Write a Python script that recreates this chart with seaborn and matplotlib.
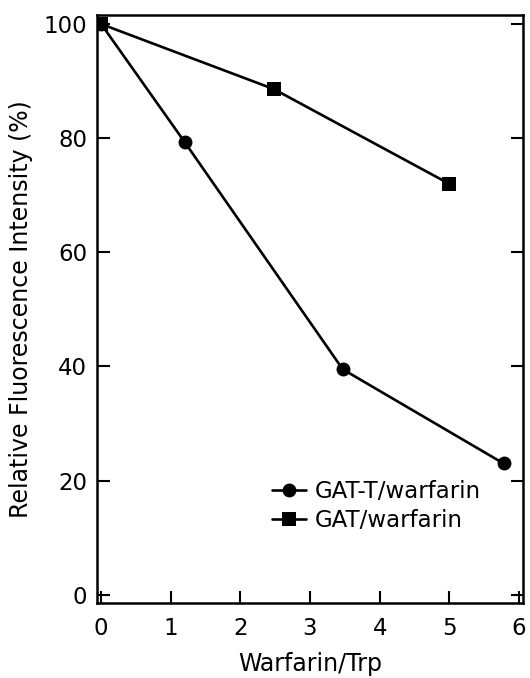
import matplotlib
matplotlib.use("Agg")
import matplotlib.pyplot as plt
import seaborn as sns
import pandas as pd

# Data
gatt_x = [0, 1.2, 3.47, 5.78]
gatt_y = [100, 79.3, 39.5, 23.0]
gat_x = [0, 2.48, 5.0]
gat_y = [100, 88.6, 72.0]
series_names = ["GAT-T/warfarin", "GAT/warfarin"]
xticks = [0, 1, 2, 3, 4, 5, 6]
yticks = [0, 20, 40, 60, 80, 100]

df = pd.concat([
    pd.DataFrame({"x": gatt_x, "y": gatt_y, "series": series_names[0]}),
    pd.DataFrame({"x": gat_x, "y": gat_y, "series": series_names[1]}),
], ignore_index=True)

sns.set_style("ticks")
plt.rcParams["font.family"] = ["DejaVu Sans"]
plt.rcParams["text.color"] = "black"
plt.rcParams["axes.labelcolor"] = "black"

fig = plt.figure(figsize=(5.3, 6.78), dpi=100)
ax = fig.add_axes([0.183, 0.111, 0.804, 0.867])

sns.lineplot(data=df, x="x", y="y", hue="series", style="series",
             palette=["black", "black"], markers={series_names[0]: "o", series_names[1]: "s"},
             dashes=False, markersize=10, linewidth=1.9, markeredgewidth=0,
             sort=False, ax=ax)

ax.set_xlim(-0.06, 6.06)
ax.set_ylim(-1.4, 101.6)
ax.set_xticks(xticks)
ax.set_yticks(yticks)
ax.tick_params(axis="both", direction="in", length=9, width=1.5, labelsize=16.5, colors="black")
ax.tick_params(axis="y", right=True, left=True, pad=7)
ax.tick_params(axis="x", pad=10)
for s in ax.spines.values():
    s.set_linewidth(1.8)
    s.set_color("black")

ax.set_xlabel("Warfarin/Trp", fontsize=17, labelpad=9, color="black")
ax.set_ylabel("Relative Fluorescence Intensity (%)", fontsize=17, labelpad=8, color="black")

handles, labels = ax.get_legend_handles_labels()
leg = ax.legend(handles=handles, labels=labels, loc="upper left", bbox_to_anchor=(0.41, 0.208),
                frameon=False, fontsize=16.5, handlelength=1.5, handletextpad=0.4,
                labelspacing=0.25, borderpad=0, borderaxespad=0)
for t in leg.get_texts():
    t.set_color("black")

fig.savefig("out.png", dpi=100)
